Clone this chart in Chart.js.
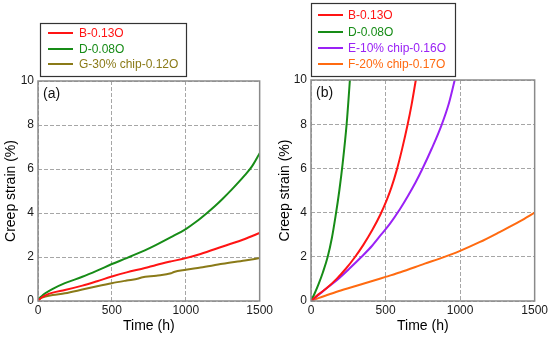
<!DOCTYPE html>
<html>
<head>
<meta charset="utf-8">
<script src="https://cdn.jsdelivr.net/npm/chart.js@4.4.1/dist/chart.umd.min.js"></script>
<style>
  body { margin: 0; background: #fff; }
  canvas { position: absolute; top: 0; }
  #chartA { left: 0; }
  #chartB { left: 275px; }
</style>
</head>
<body>
<canvas id="chartA" width="275" height="339"></canvas>
<canvas id="chartB" width="275" height="339"></canvas>
<script>
// panel (a)
var timeB_a = [0, 10, 25, 50, 100, 182, 300, 400, 500, 600, 723, 800, 900, 1000, 1100, 1250, 1400, 1500];
var strainB_a = [0, 0.08, 0.16, 0.26, 0.38, 0.5, 0.7, 0.9, 1.11, 1.3, 1.5, 1.64, 1.8, 1.95, 2.14, 2.48, 2.82, 3.09];
var timeD_a = [0, 10, 25, 49, 100, 182, 300, 400, 500, 600, 723, 800, 900, 1000, 1070, 1140, 1200, 1250, 1309, 1400, 1448, 1500];
var strainD_a = [0, 0.12, 0.22, 0.35, 0.55, 0.81, 1.1, 1.38, 1.68, 1.95, 2.3, 2.55, 2.9, 3.27, 3.6, 3.98, 4.33, 4.65, 5.05, 5.72, 6.12, 6.72];
var timeG_a = [0, 10, 25, 50, 100, 182, 300, 400, 500, 600, 680, 700, 800, 900, 920, 1000, 1100, 1250, 1400, 1500];
var strainG_a = [0, 0.08, 0.15, 0.2, 0.27, 0.35, 0.52, 0.67, 0.81, 0.93, 1.02, 1.07, 1.15, 1.26, 1.32, 1.42, 1.52, 1.69, 1.84, 1.95];

// panel (b)
var timeB_b = [0, 50, 100, 172, 235, 294, 350, 410, 468, 507, 540, 574, 610, 647, 675, 703];
var strainB_b = [0, 0.3, 0.55, 1, 1.47, 1.98, 2.53, 3.2, 3.95, 4.55, 5.15, 5.9, 6.85, 7.95, 8.9, 10];
var timeD_b = [0, 25, 50, 80, 112, 140, 165, 190, 212, 239, 261];
var strainD_b = [0, 0.35, 0.75, 1.3, 2, 2.85, 3.85, 5, 6.2, 8, 10];
var timeE_b = [0, 50, 100, 183, 260, 339, 410, 470, 530, 596, 650, 700, 745, 810, 875, 925, 964];
var strainE_b = [0, 0.27, 0.55, 1, 1.48, 2, 2.5, 3, 3.5, 4.15, 4.75, 5.35, 5.95, 6.9, 7.95, 8.95, 10];
var timeF_b = [0, 50, 100, 183, 300, 400, 500, 600, 763, 863, 1000, 1130, 1265, 1400, 1500];
var strainF_b = [0, 0.13, 0.25, 0.44, 0.68, 0.88, 1.09, 1.3, 1.69, 1.92, 2.27, 2.66, 3.12, 3.6, 4.0];

var xTicks = [0, 500, 1000, 1500];
var yTicks = [0, 2, 4, 6, 8, 10];

var RED = "#ff1414";
var GREEN = "#178c17";
var OLIVE = "#8a7a18";
var PURPLE = "#9a22f5";
var ORANGE = "#ff6a10";

function pts(t, v) {
    return t.map((x, i) => ({ x: x, y: v[i] }));
}

function series(label, t, v, color) {
    return {
        label: label,
        data: pts(t, v),
        borderColor: color,
        backgroundColor: color,
        borderWidth: 2,
        pointRadius: 0,
        cubicInterpolationMode: "monotone",
    };
}

// frame, panel label and boxed legend
var framePlugin = {
    id: "frame",
    afterDraw(chart, args, opts) {
        let ctx = chart.ctx;
        let a = chart.chartArea;
        ctx.save();
        ctx.strokeStyle = "#8a8a8a";
        ctx.lineWidth = 1.5;
        ctx.setLineDash([]);
        ctx.strokeRect(a.left, a.top, a.right - a.left, a.bottom - a.top);

        ctx.fillStyle = "#111";
        ctx.font = "14px 'Liberation Sans', Arial, sans-serif";
        ctx.textBaseline = "middle";
        ctx.textAlign = "left";
        ctx.fillText(opts.panel, a.left + 5, a.top + 13);

        let b = opts.box;
        ctx.strokeStyle = "#333";
        ctx.lineWidth = 1.2;
        ctx.strokeRect(b.x, b.y, b.w, b.h);
        ctx.font = "12px 'Liberation Sans', Arial, sans-serif";
        chart.data.datasets.forEach((ds, i) => {
            let y = opts.rows[i];
            ctx.strokeStyle = ds.borderColor;
            ctx.lineWidth = 2;
            ctx.beginPath();
            ctx.moveTo(opts.lineX[0], y);
            ctx.lineTo(opts.lineX[1], y);
            ctx.stroke();
            ctx.fillStyle = ds.borderColor;
            ctx.fillText(ds.label, opts.textX, y + 0.5);
        });
        ctx.restore();
    },
};

function makeChart(id, datasets, frame, titlePad) {
    return new Chart(document.getElementById(id), {
        type: "line",
        data: { datasets: datasets },
        plugins: [framePlugin],
        options: {
            responsive: false,
            animation: false,
            devicePixelRatio: 1,
            layout: { padding: { top: frame.top, right: frame.right, left: 0, bottom: 0 } },
            plugins: {
                legend: { display: false },
                tooltip: { enabled: false },
                frame: frame,
            },
            scales: {
                x: {
                    type: "linear",
                    min: 0,
                    max: 1500,
                    afterFit: (s) => { s.height = 38; },
                    afterBuildTicks: (s) => { s.ticks = xTicks.map((v) => ({ value: v })); },
                    grid: { color: "#a6a6a6", lineWidth: 1, drawTicks: false },
                    border: { display: false, dash: [4, 2] },
                    ticks: {
                        padding: 2,
                        color: "#1a1a1a",
                        font: { family: "'Liberation Sans', Arial", size: 12 },
                        callback: (v) => String(v),
                    },
                    title: {
                        display: true,
                        text: "Time (h)",
                        color: "#000",
                        font: { family: "'Liberation Sans', Arial", size: 14 },
                        padding: { top: 0, bottom: 4 },
                    },
                },
                y: {
                    min: 0,
                    max: 10,
                    afterFit: (s) => { s.width = frame.yw; },
                    afterBuildTicks: (s) => { s.ticks = yTicks.map((v) => ({ value: v })); },
                    grid: { color: "#a6a6a6", lineWidth: 1, drawTicks: false },
                    border: { display: false, dash: [4, 2] },
                    ticks: {
                        padding: 4,
                        color: "#1a1a1a",
                        font: { family: "'Liberation Sans', Arial", size: 12 },
                        callback: (v) => String(v),
                    },
                    title: {
                        display: true,
                        text: "Creep strain (%)",
                        color: "#000",
                        font: { family: "'Liberation Sans', Arial", size: 14 },
                        padding: { top: titlePad, bottom: 0 },
                    },
                },
            },
        },
    });
}

makeChart("chartA", [
    series("B-0.13O", timeB_a, strainB_a, RED),
    series("D-0.08O", timeD_a, strainD_a, GREEN),
    series("G-30% chip-0.12O", timeG_a, strainG_a, OLIVE),
], {
    top: 81, right: 15, yw: 38, panel: "(a)",
    box: { x: 40.5, y: 23.5, w: 146, h: 53 },
    rows: [33, 49, 64], lineX: [48, 73], textX: 79,
}, 3);

makeChart("chartB", [
    series("B-0.13O", timeB_b, strainB_b, RED),
    series("D-0.08O", timeD_b, strainD_b, GREEN),
    series("E-10% chip-0.16O", timeE_b, strainE_b, PURPLE),
    series("F-20% chip-0.17O", timeF_b, strainF_b, ORANGE),
], {
    top: 80, right: 15, yw: 36, panel: "(b)",
    box: { x: 36.5, y: 3.5, w: 144, h: 73 },
    rows: [15, 32, 48, 64], lineX: [43, 68], textX: 73,
}, 2);
</script>
</body>
</html>
